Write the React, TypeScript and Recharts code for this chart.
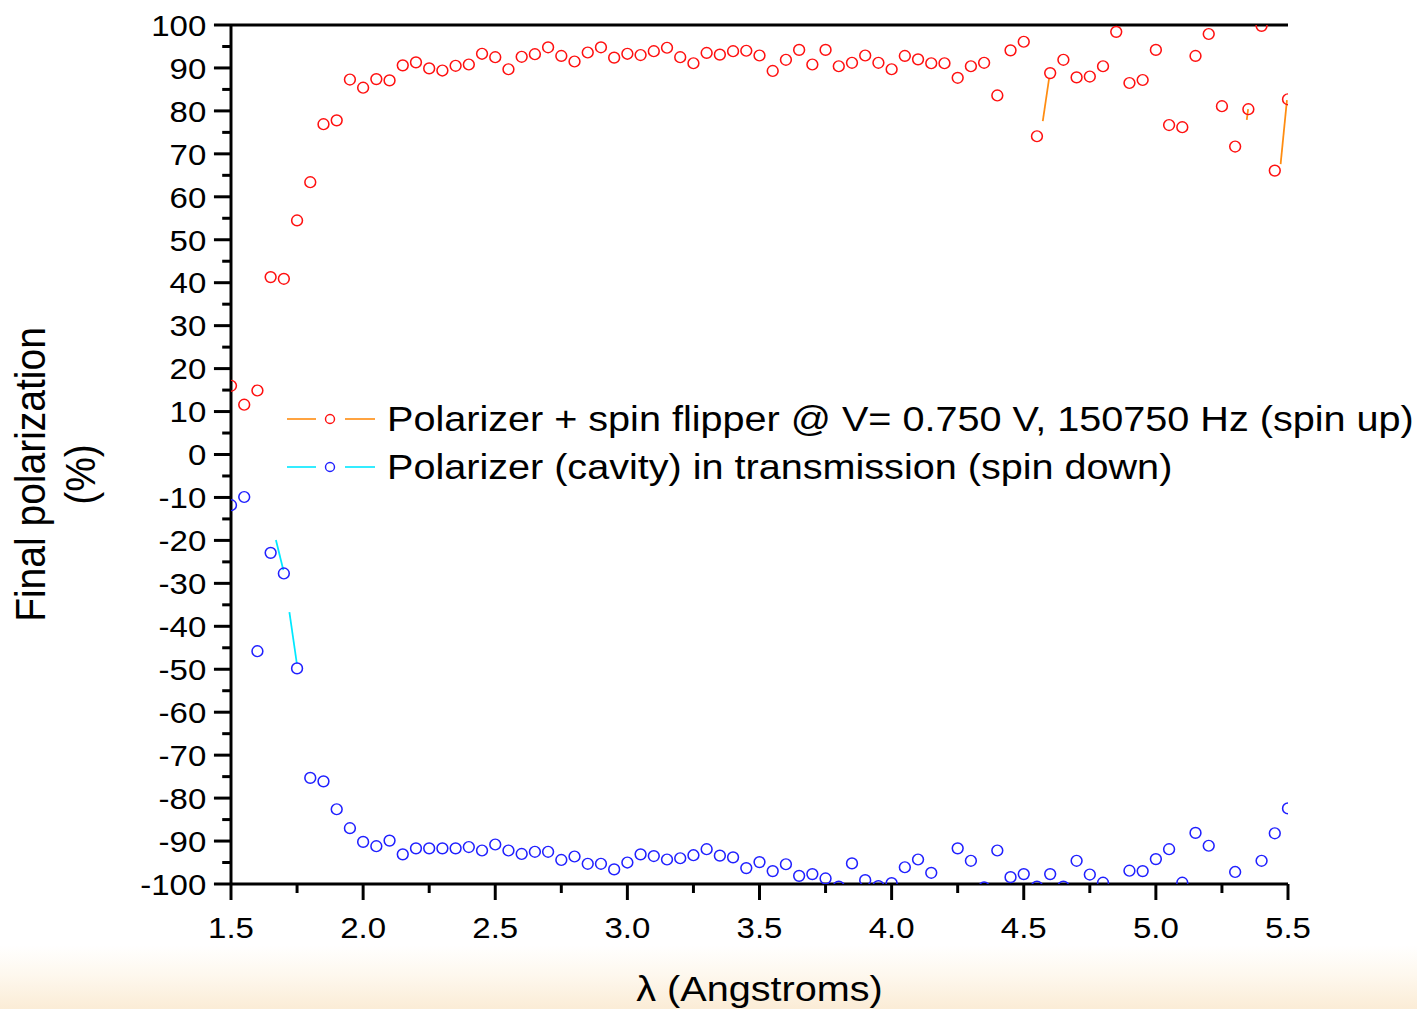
import React from 'react';
import { ScatterChart, Scatter, XAxis, YAxis, Label } from 'recharts';

// the source slide is stretched sideways, so draw narrower and scale the whole chart
const SX = 1.1;
const W = 1289;
const H = 1009;
const FONT = '"Liberation Sans", Arial, Helvetica, sans-serif';

const wavelengths = [
  1.5, 1.55, 1.6, 1.65, 1.7, 1.75, 1.8, 1.85, 1.9, 1.95,
  2.0, 2.05, 2.1, 2.15, 2.2, 2.25, 2.3, 2.35, 2.4, 2.45,
  2.5, 2.55, 2.6, 2.65, 2.7, 2.75, 2.8, 2.85, 2.9, 2.95,
  3.0, 3.05, 3.1, 3.15, 3.2, 3.25, 3.3, 3.35, 3.4, 3.45,
  3.5, 3.55, 3.6, 3.65, 3.7, 3.75, 3.8, 3.85, 3.9, 3.95,
  4.0, 4.05, 4.1, 4.15, 4.2, 4.25, 4.3, 4.35, 4.4, 4.45,
  4.5, 4.55, 4.6, 4.65, 4.7, 4.75, 4.8, 4.85, 4.9, 4.95,
  5.0, 5.05, 5.1, 5.15, 5.2, 5.25, 5.3, 5.35, 5.4, 5.45,
  5.5,
];

const spinUp = [
  16.0, 11.6, 14.9, 41.3, 40.9, 54.5, 63.4, 76.9, 77.8, 87.3,
  85.4, 87.4, 87.1, 90.6, 91.3, 89.9, 89.4, 90.5, 90.8, 93.3,
  92.5, 89.7, 92.6, 93.2, 94.8, 92.8, 91.5, 93.6, 94.8, 92.4,
  93.3, 93.0, 93.9, 94.7, 92.5, 91.1, 93.5, 93.1, 93.9, 94.0,
  92.9, 89.3, 91.9, 94.2, 90.8, 94.2, 90.4, 91.2, 92.9, 91.2,
  89.7, 92.8, 92.0, 91.1, 91.1, 87.7, 90.4, 91.2, 83.6, 94.1,
  96.1, 74.1, 88.8, 91.9, 87.8, 88.0, 90.4, 98.4, 86.5, 87.2,
  94.2, 76.7, 76.2, 92.8, 97.9, 81.1, 71.7, 80.4, 99.8, 66.1,
  82.7,
];

const spinDown = [
  -11.8, -9.9, -45.8, -22.9, -27.7, -49.8, -75.3, -76.1, -82.6, -87.0,
  -90.2, -91.2, -89.9, -93.1, -91.7, -91.7, -91.7, -91.7, -91.4, -92.2,
  -90.8, -92.2, -93.0, -92.5, -92.5, -94.4, -93.6, -95.3, -95.3, -96.6,
  -95.0, -93.1, -93.5, -94.3, -94.0, -93.3, -91.9, -93.4, -93.8, -96.3,
  -94.9, -97.0, -95.4, -98.1, -97.7, -98.7, -100.6, -95.2, -99.1, -100.5,
  -99.8, -96.1, -94.3, -97.4, -103, -91.7, -94.6, -100.8, -92.2, -98.4,
  -97.7, -100.6, -97.7, -100.6, -94.6, -97.8, -99.7, -103, -96.9, -97.0,
  -94.2, -91.9, -99.7, -88.1, -91.1, -103, -97.2, -103, -94.6, -88.2,
  -82.4,
];

// stray pieces of the connecting line that show in the original plot
const upFragments = [
  [{ x: 4.572, y: 77.6 }, { x: 4.596, y: 87.6 }],
  [{ x: 5.344, y: 77.9 }, { x: 5.349, y: 80.4 }],
  [{ x: 5.472, y: 67.6 }, { x: 5.496, y: 82.5 }],
];
const downFragments = [
  [{ x: 1.67, y: -19.9 }, { x: 1.698, y: -26.9 }],
  [{ x: 1.721, y: -36.7 }, { x: 1.749, y: -48.6 }],
];

const xTicks = [1.5, 1.75, 2, 2.25, 2.5, 2.75, 3, 3.25, 3.5, 3.75, 4, 4.25, 4.5, 4.75, 5, 5.25, 5.5];
const yTicks = [
  -100, -95, -90, -85, -80, -75, -70, -65, -60, -55, -50, -45, -40, -35, -30, -25, -20, -15, -10, -5,
  0, 5, 10, 15, 20, 25, 30, 35, 40, 45, 50, 55, 60, 65, 70, 75, 80, 85, 90, 95, 100,
];

const seriesNames = [
  'Polarizer + spin flipper @ V= 0.750 V, 150750 Hz (spin up)',
  'Polarizer (cavity) in transmission (spin down)',
];
const markColors = ['#ff1010', '#2020ff'];
const lineColors = ['#ff8c10', '#00e8ff'];

const upData = wavelengths.map((x, i) => ({ x, y: spinUp[i] }));
const downData = wavelengths.map((x, i) => ({ x, y: spinDown[i] }));

const ring = (color: string) => (props: any) => (
  <ellipse cx={props.cx} cy={props.cy} rx={5.4 / SX} ry={5.4} fill="none" stroke={color} strokeWidth={1.4} />
);
const noShape = () => <g />;

const isMajorX = (v: number) => Math.abs(v * 2 - Math.round(v * 2)) < 1e-6;

const BottomTick = (props: any) => {
  const { x, y, payload } = props;
  const major = isMajorX(payload.value);
  return (
    <g>
      <line x1={x} x2={x} y1={y} y2={y + (major ? 16 : 9)} stroke="#000" strokeWidth={2.7} />
      {major && (
        <text x={x} y={y + 54} textAnchor="middle" fontSize={30} fontFamily={FONT} fill="#000">
          {payload.value.toFixed(1)}
        </text>
      )}
    </g>
  );
};

const TopTick = (props: any) => {
  const { x, y, payload } = props;
  const major = isMajorX(payload.value);
  return <line x1={x} x2={x} y1={y} y2={y - (major ? 14 : 7)} stroke="#000" strokeWidth={2.7} />;
};

const LeftTick = (props: any) => {
  const { x, y, payload } = props;
  const major = payload.value % 10 === 0;
  return (
    <g>
      <line x1={x - (major ? 15.5 : 8)} x2={x} y1={y} y2={y} stroke="#000" strokeWidth={3} />
      {major && (
        <text x={x - 22.5} y={y} dy="0.36em" textAnchor="end" fontSize={30} fontFamily={FONT} fill="#000">
          {String(payload.value)}
        </text>
      )}
    </g>
  );
};

const XTitle = (props: any) => {
  const { x, y, width } = props.viewBox;
  return (
    <text x={x + width / 2} y={y + 117} textAnchor="middle" fontSize={36} fontFamily={FONT} fill="#000">
      λ (Angstroms)
    </text>
  );
};

const YTitle = (props: any) => {
  const { y, height } = props.viewBox;
  const cy = y + height / 2 + 20;
  return (
    <g fontFamily={FONT} fontSize={39} fill="#000" textAnchor="middle">
      <text transform={`translate(40.9, ${cy}) rotate(-90)`}>Final polarization</text>
      <text transform={`translate(86.4, ${cy}) rotate(-90)`}>(%)</text>
    </g>
  );
};

const LegendBox = () => (
  <svg width={W} height={H} style={{ position: 'absolute', left: 0, top: 0, pointerEvents: 'none' }}>
    {seriesNames.map((name, i) => {
      const cy = 419 + i * 48;
      return (
        <g key={name}>
          <line x1={287 / SX} x2={316 / SX} y1={cy} y2={cy} stroke={lineColors[i]} strokeWidth={1.6} />
          <ellipse cx={330 / SX} cy={cy} rx={4.5 / SX} ry={4.5} fill="none" stroke={markColors[i]} strokeWidth={1.3} />
          <line x1={345 / SX} x2={375 / SX} y1={cy} y2={cy} stroke={lineColors[i]} strokeWidth={1.6} />
          <text x={387 / SX} y={cy + 12.5} fontSize={36} fontFamily={FONT} fill="#000">
            {name}
          </text>
        </g>
      );
    })}
  </svg>
);

const App: React.FC = () => {
  return (
    <div
      style={{
        position: 'absolute',
        left: 0,
        top: 0,
        width: 1417,
        height: H,
        overflow: 'hidden',
        background: 'linear-gradient(to bottom, #ffffff 0px, #ffffff 945px, #fef8ee 975px, #fbecd6 1009px)',
      }}
    >
      <div style={{ position: 'relative', width: W, height: H, transform: `scaleX(${SX})`, transformOrigin: '0 0' }}>
        <ScatterChart width={W} height={H} margin={{ top: 24, right: W - 1288 / SX, bottom: 65, left: 150 }}>
          <XAxis
            xAxisId="top"
            orientation="top"
            type="number"
            domain={[1.5, 5.5]}
            ticks={xTicks}
            allowDataOverflow
            interval={0}
            height={1}
            tickSize={0}
            tickMargin={0}
            tickLine={false}
            tick={<TopTick />}
            axisLine={{ stroke: '#000', strokeWidth: 3 }}
          />
          <XAxis
            type="number"
            dataKey="x"
            domain={[1.5, 5.5]}
            ticks={xTicks}
            allowDataOverflow
            interval={0}
            height={60}
            tickSize={0}
            tickMargin={0}
            tickLine={false}
            tick={<BottomTick />}
            axisLine={{ stroke: '#000', strokeWidth: 3 }}
          >
            <Label content={XTitle} />
          </XAxis>
          <YAxis
            type="number"
            dataKey="y"
            domain={[-100, 100]}
            ticks={yTicks}
            allowDataOverflow
            interval={0}
            width={60}
            tickSize={0}
            tickMargin={0}
            tickLine={false}
            tick={<LeftTick />}
            axisLine={{ stroke: '#000', strokeWidth: 2.7 }}
          >
            <Label content={YTitle} />
          </YAxis>

          {upFragments.map((seg, i) => (
            <Scatter
              key={`up-seg-${i}`}
              data={seg}
              line={{ stroke: lineColors[0], strokeWidth: 1.6 }}
              shape={noShape}
              isAnimationActive={false}
            />
          ))}
          {downFragments.map((seg, i) => (
            <Scatter
              key={`down-seg-${i}`}
              data={seg}
              line={{ stroke: lineColors[1], strokeWidth: 1.6 }}
              shape={noShape}
              isAnimationActive={false}
            />
          ))}
          <Scatter name={seriesNames[0]} data={upData} shape={ring(markColors[0])} isAnimationActive={false} />
          <Scatter name={seriesNames[1]} data={downData} shape={ring(markColors[1])} isAnimationActive={false} />
        </ScatterChart>
        <LegendBox />
      </div>
    </div>
  );
};

export default App;
